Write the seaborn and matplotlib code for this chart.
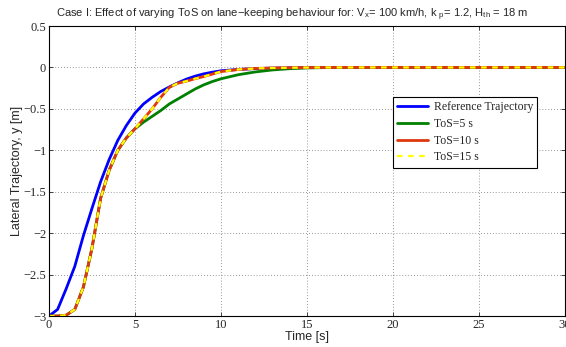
import matplotlib
matplotlib.use("Agg")
import matplotlib.pyplot as plt
import numpy as np
import pandas as pd
import seaborn as sns

# time samples [s]
time_s = [0, 0.5, 1, 1.5, 2, 2.5, 3, 3.5, 4, 4.5, 5, 5.5, 6, 6.5, 7, 7.5,
          8, 8.5, 9, 9.5, 10, 11, 12, 13, 14, 15, 16, 17, 20, 25, 30]

# lateral trajectory y [m]
reference = [-3.0, -2.92, -2.67, -2.40, -2.03, -1.70, -1.38, -1.11, -0.88,
             -0.70, -0.55, -0.44, -0.36, -0.29, -0.235, -0.185, -0.14, -0.105,
             -0.077, -0.057, -0.04, -0.024, -0.014, -0.008, -0.004, -0.002,
             -0.001, 0.0, 0.0, 0.0, 0.0]
tos_5 = [-3.0, -3.0, -2.99, -2.92, -2.65, -2.18, -1.58, -1.24, -1.0, -0.85,
         -0.74, -0.66, -0.59, -0.52, -0.44, -0.38, -0.32, -0.26, -0.21, -0.17,
         -0.137, -0.088, -0.054, -0.03, -0.015, -0.006, -0.002, 0.0, 0.0, 0.0,
         0.0]
tos_10 = [-3.0, -3.0, -2.99, -2.92, -2.65, -2.18, -1.58, -1.24, -1.0, -0.85,
          -0.74, -0.62, -0.50, -0.36, -0.24, -0.19, -0.165, -0.135, -0.11,
          -0.08, -0.05, -0.025, -0.012, -0.006, -0.003, -0.001, 0.0, 0.0, 0.0,
          0.0, 0.0]
tos_15 = list(tos_10)

xticks = [0, 5, 10, 15, 20, 25, 30]
yticks = [-3, -2.5, -2, -1.5, -1, -0.5, 0, 0.5]

sns.set_style("ticks")
plt.rcParams["font.family"] = ["Liberation Sans", "DejaVu Sans"]
plt.rcParams["mathtext.fontset"] = "custom"
plt.rcParams["mathtext.rm"] = "Liberation Sans"
plt.rcParams["mathtext.it"] = "Liberation Sans"

fig = plt.figure(figsize=(5.66, 3.47), dpi=100)
ax = fig.add_axes([0.0866, 0.0893, 0.9114, 0.8357])

sns.lineplot(x=time_s, y=reference, ax=ax, color=(0, 0, 1), linewidth=2.0,
             label="Reference Trajectory")
sns.lineplot(x=time_s, y=tos_5, ax=ax, color=(0, 0.5, 0), linewidth=2.0,
             label="ToS=5 s")
sns.lineplot(x=time_s, y=tos_10, ax=ax, color=(0.87, 0.22, 0.05), linewidth=2.0,
             label="ToS=10 s")
sns.lineplot(x=time_s, y=tos_15, ax=ax, color=(1, 1, 0), linewidth=1.6,
             label="ToS=15 s")
ax.lines[-1].set_dashes([2.5, 2.5])

ax.set_xlim(0, 30)
ax.set_ylim(-3, 0.5)
ax.set_xticks(xticks)
ax.set_yticks(yticks)
ax.set_xticklabels([str(v) for v in xticks], family="Liberation Serif", fontsize=9)
ax.set_yticklabels(["\u22123", "\u22122.5", "\u22122", "\u22121.5", "\u22121",
                    "\u22120.5", "0", "0.5"], family="Liberation Serif", fontsize=9)
ax.tick_params(direction="in", length=3, width=0.6, top=True, right=True, pad=2)
ax.grid(True, linestyle=(0, (1, 2.5)), color="#777777", linewidth=0.6)
for sp in ax.spines.values():
    sp.set_visible(True)
    sp.set_linewidth(0.8)
    sp.set_color("black")

ax.set_xlabel("Time [s]", fontsize=9, labelpad=0)
ax.set_ylabel("Lateral Trajectory, y [m]", fontsize=9, labelpad=0)
ax.set_title("Case I: Effect of varying ToS on lane\u2212keeping behaviour for: "
             "V$_x$= 100 km/h, k $_p$= 1.2, H$_{th}$ = 18 m", fontsize=8,
             x=0.471, pad=6)

leg = ax.legend(loc="upper right", bbox_to_anchor=(0.946, 0.755), frameon=True,
                fancybox=False, edgecolor="black", framealpha=1,
                prop={"family": "Liberation Serif", "size": 8.5},
                handlelength=2.6, borderpad=0.35, labelspacing=0.4,
                handletextpad=0.5, borderaxespad=0)
leg.get_frame().set_linewidth(0.8)

fig.savefig("out.png", dpi=100)
